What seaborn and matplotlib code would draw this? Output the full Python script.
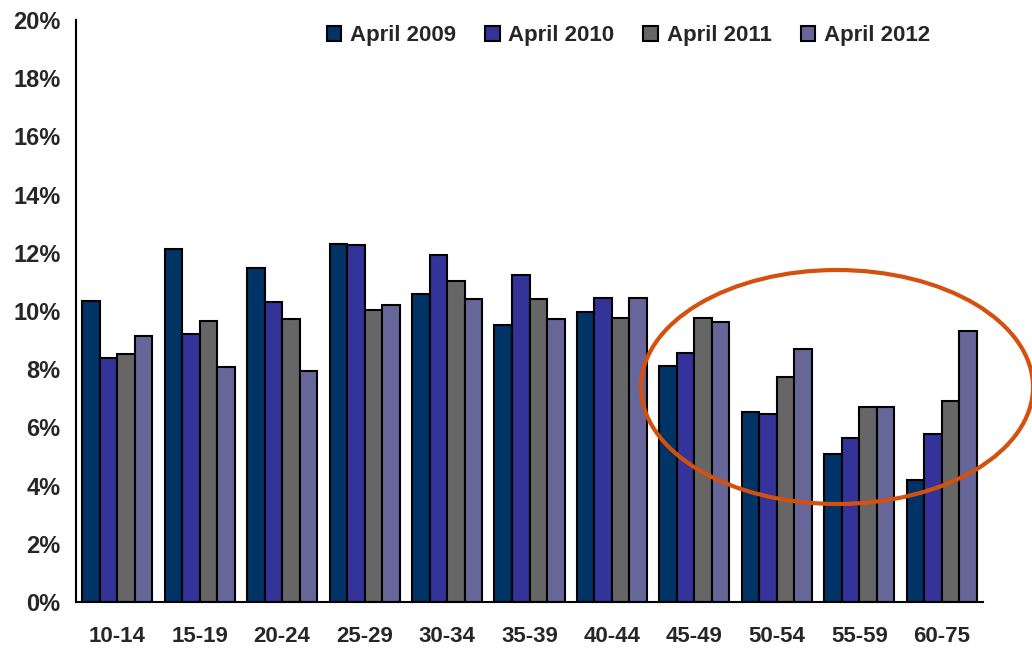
import pandas as pd
import seaborn as sns
import matplotlib.pyplot as plt
from matplotlib.patches import Ellipse
import matplotlib.ticker as mticker

# valores (% de la poblacion por grupo de edad)
edades = ['10-14', '15-19', '20-24', '25-29', '30-34', '35-39',
          '40-44', '45-49', '50-54', '55-59', '60-75']
series = ['April 2009', 'April 2010', 'April 2011', 'April 2012']
abr_2009 = [10.34, 12.13, 11.48, 12.30, 10.58, 9.52, 9.97, 8.11, 6.53, 5.09, 4.19]
abr_2010 = [8.38, 9.21, 10.31, 12.27, 11.92, 11.24, 10.45, 8.56, 6.46, 5.64, 5.77]
abr_2011 = [8.52, 9.66, 9.72, 10.03, 11.03, 10.41, 9.76, 9.76, 7.73, 6.70, 6.91]
abr_2012 = [9.14, 8.08, 7.94, 10.20, 10.41, 9.72, 10.45, 9.62, 8.69, 6.70, 9.31]
colores = ['#003366', '#333399', '#666666', '#666699']

df = pd.DataFrame({'Edad': edades, series[0]: abr_2009, series[1]: abr_2010,
                   series[2]: abr_2011, series[3]: abr_2012})
df_largo = df.melt(id_vars='Edad', var_name='Serie', value_name='Valor')

sns.set_style('white')
plt.rcParams['font.family'] = ['Liberation Sans', 'DejaVu Sans']
plt.rcParams['font.weight'] = 'bold'

fig = plt.figure(figsize=(10.32, 6.49), dpi=100)
ax = fig.add_axes([76 / 1032, 1 - 602 / 649, (983 - 76) / 1032, (602 - 20) / 649])

sns.barplot(data=df_largo, x='Edad', y='Valor', hue='Serie', palette=colores,
            width=0.85, edgecolor='black', linewidth=1.5, saturation=1, ax=ax)

ax.set_ylim(0, 20)
ax.set_xlim(-0.5, len(edades) - 0.5)
ax.set_yticks(range(0, 21, 2))
ax.yaxis.set_major_formatter(mticker.StrMethodFormatter('{x:.0f}%'))
ax.set_xlabel('')
ax.set_ylabel('')

# marcas del eje x en los limites de cada grupo
ax.set_xticks([i - 0.5 for i in range(len(edades) + 1)], minor=True)
ax.tick_params(axis='x', which='minor', length=7, width=1.5, direction='out', color='black')
ax.tick_params(axis='x', which='major', length=0, pad=17, labelsize=16)
ax.tick_params(axis='y', length=7, width=1.5, direction='out', color='black', labelsize=17, pad=4)
for lab in ax.get_xticklabels() + ax.get_yticklabels():
    lab.set_fontweight('bold')

sns.despine(ax=ax)
ax.spines['left'].set_linewidth(1.5)
ax.spines['bottom'].set_linewidth(1.5)
ax.spines['left'].set_color('black')
ax.spines['bottom'].set_color('black')

ax.legend(loc='upper center', bbox_to_anchor=(0.609, 1.025), ncol=4, frameon=False,
          prop={'weight': 'bold', 'size': 16}, handlelength=0.65, handleheight=0.65,
          handletextpad=0.4, columnspacing=1.3)

# elipse que resalta los grupos mayores
elipse = Ellipse((837 / 1032, 1 - 387 / 649), 392 / 1032, 234 / 649,
                 transform=fig.transFigure, fill=False, edgecolor='#D4500F', linewidth=3)
fig.patches.append(elipse)

fig.savefig('out.png', dpi=100)
